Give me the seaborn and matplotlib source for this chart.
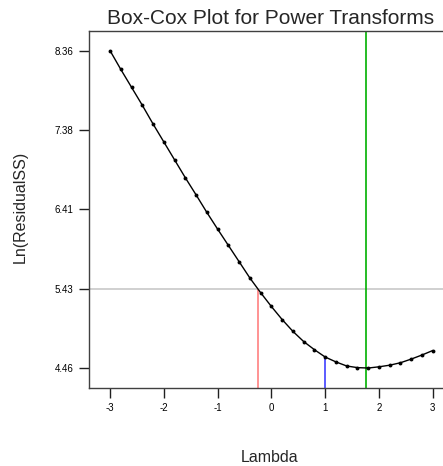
import pandas as pd
import matplotlib
matplotlib.use('Agg')
import matplotlib.pyplot as plt
import seaborn as sns

# Box-Cox values
lambdas = [-3.0, -2.8, -2.6, -2.4, -2.2, -2.0, -1.8, -1.6, -1.4, -1.2, -1.0,
           -0.8, -0.6, -0.4, -0.2, 0.0, 0.2, 0.4, 0.6, 0.8, 1.0,
           1.2, 1.4, 1.6, 1.8, 2.0, 2.2, 2.4, 2.6, 2.8, 3.0]
ln_rss = [8.36, 8.13, 7.91, 7.69, 7.46, 7.24, 7.02, 6.80, 6.59, 6.375, 6.17,
          5.97, 5.77, 5.57, 5.39, 5.22, 5.06, 4.915, 4.79, 4.69, 4.60,
          4.54, 4.49, 4.47, 4.465, 4.48, 4.50, 4.53, 4.575, 4.625, 4.68]
y_ticks = [4.46, 5.43, 6.41, 7.38, 8.36]
x_ticks = [-3, -2, -1, 0, 1, 2, 3]

ci_limit = 5.43
ci_low = -0.24
current = 1.0
current_val = 4.60
best = 1.76

df = pd.DataFrame({'Lambda': lambdas, 'LnRSS': ln_rss})

sns.set_style('ticks')
plt.rcParams['font.family'] = ['Liberation Sans', 'DejaVu Sans']

fig = plt.figure(figsize=(4.43, 4.66), dpi=100)
ax = fig.add_axes([89 / 443, 1 - 388 / 466, 1 - 89 / 443, (388 - 31) / 466])

ax.axhline(ci_limit, color='#c8c8c8', lw=1.2, zorder=1)
ax.vlines(ci_low, 4.22, ci_limit, color='#ff8080', lw=1.2, zorder=1)
ax.vlines(current, 4.22, current_val, color='#4040ff', lw=1.2, zorder=1)
ax.axvline(best, color='#00b000', lw=1.2, zorder=1)

sns.lineplot(data=df, x='Lambda', y='LnRSS', color='black', lw=1,
             marker='o', markersize=2.8, markeredgewidth=0, ax=ax, zorder=3)

ax.set_xlim(-3.39, 3.19)
ax.set_ylim(4.22, 8.60)
ax.set_xticks(x_ticks)
ax.set_xticklabels([str(t) for t in x_ticks])
ax.set_yticks(y_ticks)
ax.set_yticklabels([f'{t:.2f}' for t in y_ticks])
ax.tick_params(axis='both', labelsize=7, length=7, width=1, color='#202020',
               labelcolor='black', pad=4)

for side in ['left', 'bottom', 'top']:
    ax.spines[side].set_visible(True)
    ax.spines[side].set_color('#404040')
    ax.spines[side].set_linewidth(1)
ax.spines['right'].set_visible(False)

ax.set_xlabel('')
ax.set_ylabel('')
fig.text(270 / 443, 1 - 457 / 466, 'Lambda', ha='center', va='center', fontsize=11.5)
fig.text(20 / 443, 1 - 207 / 466, 'Ln(ResidualSS)', ha='center', va='center',
         rotation=90, fontsize=11.5)
fig.text(271 / 443, 1 - 18 / 466, 'Box-Cox Plot for Power Transforms',
         ha='center', va='center', fontsize=15)

fig.savefig('out.png', dpi=100)
